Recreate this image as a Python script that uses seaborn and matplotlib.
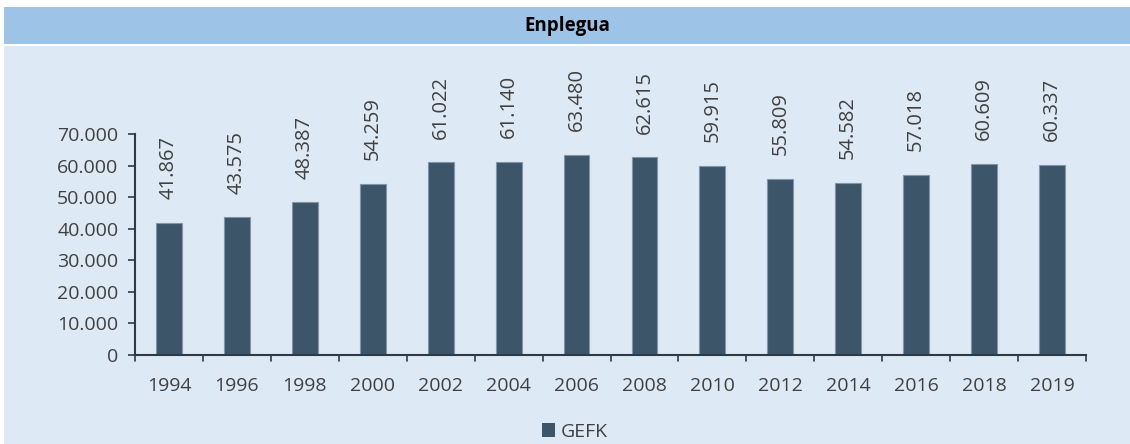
import matplotlib
matplotlib.use("Agg")
import matplotlib.pyplot as plt
import seaborn as sns
import pandas as pd
from matplotlib.patches import Rectangle, Patch

years = ["1994", "1996", "1998", "2000", "2002", "2004", "2006", "2008", "2010", "2012", "2014", "2016", "2018", "2019"]
values = [41867, 43575, 48387, 54259, 61022, 61140, 63480, 62615, 59915, 55809, 54582, 57018, 60609, 60337]
series_name = "GEFK"
title = "Enplegua"

df = pd.DataFrame({"year": years, "value": values})

sns.set_theme(style="white")
plt.rcParams['font.family'] = ['Open Sans', 'DejaVu Sans']

W, H = 1130, 444
fig = plt.figure(figsize=(W / 100, H / 100), dpi=100, facecolor="white")
bg = "#DDE9F5"
band = "#9DC3E6"
fig.patches.append(Rectangle((4 / W, 0), 1 - 4 / W, 1 - 46 / H, transform=fig.transFigure,
                             facecolor=bg, edgecolor="none", zorder=-2))
fig.patches.append(Rectangle((4 / W, 1 - 44 / H), 1 - 4 / W, 37 / H, transform=fig.transFigure,
                             facecolor=band, edgecolor="none", zorder=-1))
fig.text(567 / W, 1 - 26 / H, title, ha="center", va="center", fontsize=13.5,
         fontweight="bold", color="black")

ax = fig.add_axes([135 / W, 1 - 355 / H, (1086 - 135) / W, (355 - 134) / H])
ax.set_facecolor(bg)
bar_color = "#3D5568"
sns.barplot(data=df, x="year", y="value", ax=ax, color=bar_color, width=0.38,
            edgecolor="#8096A8", linewidth=0.8, saturation=1)

ax.set_ylim(0, 70000)
ax.set_xlim(-0.5, len(years) - 0.5)
ax.set_yticks(range(0, 70001, 10000))
ax.set_yticklabels([f"{v:,}".replace(",", ".") for v in range(0, 70001, 10000)])
ax.set_xlabel("")
ax.set_ylabel("")
txt_color = "#404040"
fs = 14
ax.tick_params(axis="y", labelsize=fs, colors="#2E3B45", labelcolor=txt_color,
               length=5, width=1.2, direction="out", left=True, pad=7)
ax.tick_params(axis="x", labelsize=fs, labelcolor=txt_color, bottom=False, pad=10)
# category boundary ticks
for i in range(len(years) + 1):
    ax.plot([i - 0.5, i - 0.5], [0, -2000], color="#2E3B45", lw=1.2, clip_on=False)
for s in ["top", "right"]:
    ax.spines[s].set_visible(False)
for s in ["left", "bottom"]:
    ax.spines[s].set_color("#2E3B45")
    ax.spines[s].set_linewidth(1.5)

for i, v in enumerate(values):
    ax.annotate(f"{v:,}".replace(",", "."), xy=(i, v), xytext=(0, 17),
                textcoords="offset points", rotation=90, ha="center", va="bottom",
                fontsize=14.5, color=txt_color, annotation_clip=False)

handle = Patch(facecolor=bar_color, edgecolor="none")
fig.legend([handle], [series_name], loc="center", bbox_to_anchor=(575 / W, 1 - 432 / H),
           frameon=False, fontsize=fs, handlelength=0.7, handleheight=0.7,
           handletextpad=0.3, labelcolor=txt_color)

fig.savefig("out.png", dpi=100, facecolor="white")
